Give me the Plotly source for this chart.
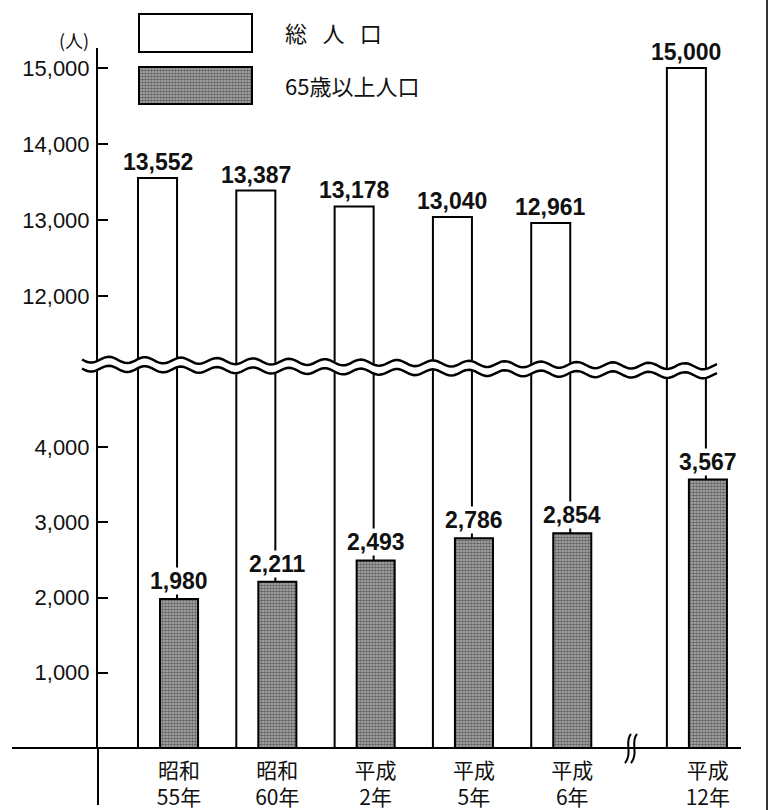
import numpy as np
import plotly.graph_objects as go

# ---- data ----
era_labels = ["昭和", "昭和", "平成", "平成", "平成", "平成"]
year_labels = ["55年", "60年", "2年", "5年", "6年", "12年"]
total_pop = [13552, 13387, 13178, 13040, 12961, 15000]
elderly_pop = [1980, 2211, 2493, 2786, 2854, 3567]
upper_ticks = [12000, 13000, 14000, 15000]
lower_ticks = [1000, 2000, 3000, 4000]
legend_names = ["総\u2002\u2009人\u2002\u2009口", "65歳以上人口"]
unit_label = "(人)"

# ---- layout helpers (pixel -> paper) ----
W, H = 777, 810
L, R, T, B = 98, 36, 48, 62
PW, PH = W - L - R, H - T - B


def px(x):
    return (x - L) / PW


def py(y):
    return (H - B - y) / PH


BREAK_Y = py(368)
GAP_AFTER = 4          # axis break between 平成6年 and 平成12年
GAP = 0.38
x_pos = [i + (GAP if i > GAP_AFTER else 0) for i in range(len(total_pop))]
tick_text = [f"{a}<br>{b}" for a, b in zip(era_labels, year_labels)]

W_OFF, W_WID = -0.417, 0.397     # white bar (総人口)
H_OFF, H_WID = -0.193, 0.387     # hatched bar (65歳以上)

white_marker = dict(color="white", line=dict(color="black", width=2))
hatch_marker = dict(color="white", line=dict(color="black", width=2),
                    pattern=dict(shape=".", size=3, solidity=0.6,
                                 fgcolor="#111111", bgcolor="#b4b4b4"))

fig = go.Figure()
fig.add_trace(go.Bar(x=x_pos, y=total_pop, xaxis="x", yaxis="y", offset=W_OFF, width=W_WID,
                     marker=white_marker, name=legend_names[0], showlegend=False, hoverinfo="skip"))
fig.add_trace(go.Bar(x=x_pos, y=total_pop, xaxis="x", yaxis="y2", offset=W_OFF, width=W_WID,
                     marker=white_marker, name=legend_names[0], showlegend=False))
fig.add_trace(go.Bar(x=x_pos, y=elderly_pop, xaxis="x", yaxis="y", offset=H_OFF, width=H_WID,
                     marker=hatch_marker, name=legend_names[1], showlegend=False))
# legend swatch for the hatched series
fig.add_trace(go.Bar(x=[0], y=[1], xaxis="x3", yaxis="y3", width=[1], offset=[-0.5],
                     marker=hatch_marker, showlegend=False, hoverinfo="skip"))

num_font = "Liberation Sans, Arial, sans-serif"
jp_font = "Noto Sans CJK JP, sans-serif"

annotations = []
for xp, v in zip(x_pos, total_pop):
    annotations.append(dict(x=xp + W_OFF + W_WID / 2, y=v, xref="x", yref="y2",
                            text=f"{v:,}", showarrow=False, yanchor="bottom", yshift=1,
                            font=dict(family=num_font, size=23, color="#111", weight="bold")))
for xp, v in zip(x_pos, elderly_pop):
    annotations.append(dict(x=xp + H_OFF + H_WID / 2, y=v, xref="x", yref="y",
                            text=f"{v:,}", showarrow=False, yanchor="bottom", yshift=4,
                            bgcolor="white", borderpad=0,
                            font=dict(family=num_font, size=23, color="#111", weight="bold")))
# legend texts
annotations.append(dict(x=px(283), y=py(32), xref="paper", yref="paper", text=legend_names[0],
                        showarrow=False, xanchor="left", yanchor="middle",
                        font=dict(family=jp_font, size=22, color="#111")))
annotations.append(dict(x=px(283), y=py(85), xref="paper", yref="paper", text=legend_names[1],
                        showarrow=False, xanchor="left", yanchor="middle",
                        font=dict(family=jp_font, size=22, color="#111")))
annotations.append(dict(x=px(91), y=py(40), xref="paper", yref="paper", text=unit_label,
                        showarrow=False, xanchor="right", yanchor="middle",
                        font=dict(family=jp_font, size=18, color="#111")))

shapes = []
# white legend box
shapes.append(dict(type="rect", xref="paper", yref="paper", x0=px(139), x1=px(252),
                   y0=py(52), y1=py(14), fillcolor="white", line=dict(color="black", width=2)))

# axis break band (wavy)
xs = np.linspace(82, 717, 240)
yc = 364 + (xs - 82) / (717 - 82) * 7
wave = 3.0 * np.sin(2 * np.pi * (xs - 82) / 36.0)
up = yc - 4.5 + wave
lo = yc + 4.5 + wave


def path_from(xx, yy, close=False):
    pts = [f"{px(a):.5f},{py(b):.5f}" for a, b in zip(xx, yy)]
    s = "M " + " L ".join(pts)
    return s + (" Z" if close else "")


band = path_from(np.concatenate([xs, xs[::-1]]), np.concatenate([up - 1, (lo + 1)[::-1]]), close=True)
shapes.append(dict(type="path", xref="paper", yref="paper", path=band,
                   fillcolor="white", line=dict(width=0), layer="above"))
for yy in (up, lo):
    shapes.append(dict(type="path", xref="paper", yref="paper", path=path_from(xs, yy),
                       line=dict(color="black", width=2.5), layer="above"))

# x axis baseline and y axis extension below the baseline
shapes.append(dict(type="line", xref="paper", yref="paper", x0=px(12), x1=px(741),
                   y0=py(748), y1=py(748), line=dict(color="black", width=2), layer="above"))
shapes.append(dict(type="line", xref="paper", yref="paper", x0=px(98), x1=px(98),
                   y0=py(748), y1=py(805), line=dict(color="black", width=2), layer="above"))
# break mark on x axis
for dx in (0, 6):
    p = (f"M {px(631+dx):.5f},{py(734):.5f} "
         f"C {px(624+dx):.5f},{py(742):.5f} {px(633+dx):.5f},{py(753):.5f} {px(625+dx):.5f},{py(763):.5f}")
    shapes.append(dict(type="path", xref="paper", yref="paper", path=p,
                       line=dict(color="black", width=2), layer="above"))
# right border of the scanned page
shapes.append(dict(type="line", xref="paper", yref="paper", x0=px(767), x1=px(767),
                   y0=py(0), y1=py(810), line=dict(color="#333", width=2), layer="above"))

tickfont = dict(family="Liberation Sans, Arial, sans-serif", size=22, color="#111")

fig.update_layout(
    width=W, height=H,
    margin=dict(l=L, r=R, t=T, b=B, autoexpand=False),
    paper_bgcolor="white", plot_bgcolor="rgba(0,0,0,0)",
    barmode="overlay", showlegend=False,
    xaxis=dict(domain=[0, 1], anchor="y", range=[-0.824, 5.717], automargin=False,
               tickvals=x_pos, ticktext=tick_text, ticks="", showline=False,
               showgrid=False, zeroline=False, ticklabelstandoff=8,
               tickfont=dict(family=jp_font, size=21, color="#111")),
    yaxis=dict(domain=[0, BREAK_Y], anchor="x", range=[0, 5050], tickvals=lower_ticks,
               automargin=False,
               tickformat=",", ticks="inside", ticklen=10, tickwidth=2, tickcolor="black",
               showline=True, linecolor="black", linewidth=2, showgrid=False, zeroline=False,
               ticklabelstandoff=2, tickfont=tickfont),
    yaxis2=dict(domain=[BREAK_Y, 1], anchor="x", range=[11053, 15263], tickvals=upper_ticks,
                automargin=False,
                tickformat=",", ticks="inside", ticklen=10, tickwidth=2, tickcolor="black",
                showline=True, linecolor="black", linewidth=2, showgrid=False, zeroline=False,
                ticklabelstandoff=2, tickfont=tickfont),
    xaxis3=dict(domain=[px(138), px(253)], anchor="y3", range=[-0.5 * 115 / 113, 0.5 * 115 / 113],
                visible=False, fixedrange=True),
    yaxis3=dict(domain=[py(105), py(66)], anchor="x3", range=[-1 / 37, 1 + 1 / 37],
                visible=False, fixedrange=True),
    annotations=annotations,
    shapes=shapes,
)

fig.write_html("out.html", config={"displayModeBar": False},
               post_script="document.body.style.margin='0';")
